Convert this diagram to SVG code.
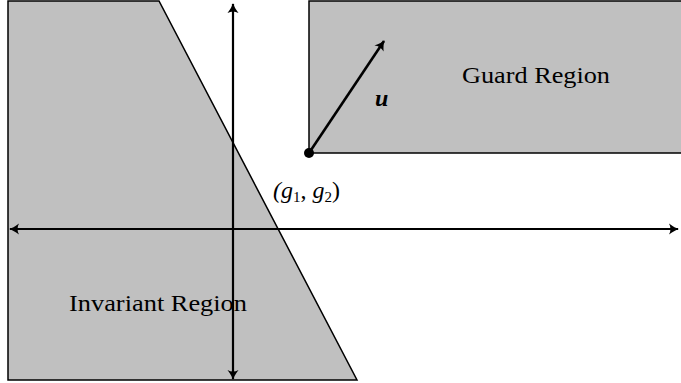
<svg xmlns="http://www.w3.org/2000/svg" width="681" height="383" viewBox="0 0 681 383">
<style>
.region{fill:#c0c0c0;stroke:#000;stroke-width:1.5;stroke-linejoin:miter}
.axis{fill:none;stroke:#000;stroke-width:2.2}
.lbl{font-family:"Liberation Serif","DejaVu Serif",serif;font-size:24px;fill:#000}
</style>
<defs>
<marker id="ah" viewBox="-10 -6 12 12" markerWidth="12" markerHeight="12" refX="0" refY="0" orient="auto-start-reverse" markerUnits="userSpaceOnUse">
<path d="M-9,-5.5 Q-3,-1 1,0 Q-3,1 -9,5.5 Q-6,0 -9,-5.5 Z" fill="#000"/>
</marker>
</defs>
<g id="invariant-region">
<polygon class="region" points="8,1 159,1 357,380 8,380"/>
<text class="lbl" x="69" y="311" textLength="178" lengthAdjust="spacingAndGlyphs">Invariant Region</text>
</g>
<g id="guard-region">
<polygon class="region" points="309,1 683,1 683,153 309,153"/>
<text class="lbl" x="462" y="83" textLength="148" lengthAdjust="spacingAndGlyphs">Guard Region</text>
</g>
<g id="connectors">
<line class="axis" x1="10" y1="229" x2="678" y2="229" marker-start="url(#ah)" marker-end="url(#ah)"/>
<line class="axis" x1="233" y1="379" x2="233" y2="4" marker-start="url(#ah)" marker-end="url(#ah)"/>
<line x1="309" y1="153" x2="384" y2="41" stroke="#000" stroke-width="2.6" marker-end="url(#ah)"/>
</g>
<g id="point">
<circle cx="309" cy="153" r="5" fill="#000"/>
<text class="lbl" x="273" y="198" font-style="italic" font-size="23">(<tspan>g</tspan><tspan font-style="normal" font-size="15" dy="4">1</tspan><tspan dy="-4" font-style="normal">,</tspan><tspan dx="6">g</tspan><tspan font-style="normal" font-size="15" dy="4">2</tspan><tspan dy="-4" font-style="normal">)</tspan></text>
</g>
<g id="u-label">
<text class="lbl" x="375" y="106" font-style="italic" font-weight="bold" font-size="25">u</text>
</g>
</svg>
